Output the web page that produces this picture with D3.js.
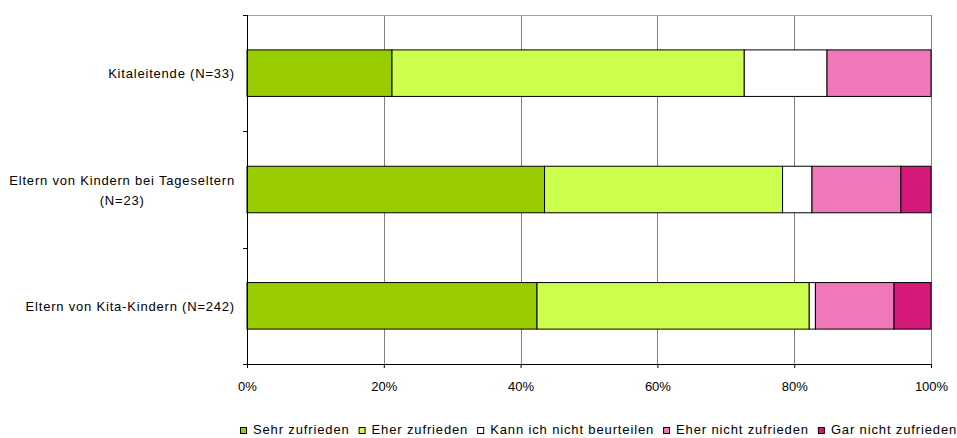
<!DOCTYPE html>
<html>
<head>
<meta charset="utf-8">
<script src="https://cdn.jsdelivr.net/npm/d3@7"></script>
<style>
  body { margin: 0; background: #fff; }
  svg text { font-family: "Liberation Sans", Arial, sans-serif; fill: #000; }
</style>
</head>
<body>
<div id="chart"></div>
<script>
// groups, top to bottom (label lines)
let groups = ["Kitaleitende (N=33)", "Eltern von Kindern bei Tageseltern (N=23)", "Eltern von Kita-Kindern (N=242)"];
let groupLines = [["Kitaleitende (N=33)"], ["Eltern von Kindern bei Tageseltern", "(N=23)"], ["Eltern von Kita-Kindern (N=242)"]];

let answers = ["Sehr zufrieden", "Eher zufrieden", "Kann ich nicht beurteilen", "Eher nicht zufrieden", "Gar nicht zufrieden"];
let colors = ["#99cc00", "#ccff4d", "#ffffff", "#f078ba", "#d5197a"];

// percent per answer, one array per group
let kitaleitende = [21.2, 51.5, 12.1, 15.2, 0];
let tageseltern = [43.5, 34.8, 4.3, 13.0, 4.4];
let kitaEltern = [42.4, 39.8, 0.9, 11.5, 5.4];

let xTicks = [0, 20, 40, 60, 80, 100];

let values = [kitaleitende, tageseltern, kitaEltern];

let margin = {top: 15, left: 247, right: 26, bottom: 74};
let width = 957, height = 438;
let innerW = width - margin.left - margin.right;
let innerH = height - margin.top - margin.bottom;

let svg = d3.select("#chart").append("svg")
    .attr("width", width)
    .attr("height", height);

let g = svg.append("g")
    .attr("transform", `translate(${margin.left}, ${margin.top})`);

let x = d3.scaleLinear().domain([0, 100]).range([0, innerW]);
let y = d3.scaleBand().domain(groups).range([0, innerH])
    .paddingInner(0.6).paddingOuter(0.3);

// gridlines
g.selectAll(".grid").data(xTicks.slice(1))
    .enter().append("line")
    .attr("x1", d => Math.round(x(d)) + 0.5)
    .attr("x2", d => Math.round(x(d)) + 0.5)
    .attr("y1", 0)
    .attr("y2", innerH)
    .attr("stroke", "#808080");

g.append("line")
    .attr("x1", 0).attr("x2", innerW)
    .attr("y1", 0.5).attr("y2", 0.5)
    .attr("stroke", "#a0a0a0");

// stacked bars
let rows = values.map((v, i) => {
    let acc = 0;
    return v.map((p, j) => {
        let seg = {group: groups[i], x0: acc, x1: acc + p, color: colors[j]};
        acc += p;
        return seg;
    }).filter(s => s.x1 > s.x0);
});

rows.forEach(row => {
    g.selectAll(null).data(row)
        .enter().append("rect")
        .attr("x", d => x(d.x0))
        .attr("y", d => y(d.group))
        .attr("width", d => x(d.x1) - x(d.x0))
        .attr("height", y.bandwidth())
        .attr("fill", d => d.color)
        .attr("stroke", "#000")
        .attr("stroke-width", 1);
});

// bottom axis
let xAxis = d3.axisBottom(x)
    .tickValues(xTicks)
    .tickFormat(d => d + "%")
    .tickSize(4)
    .tickPadding(14);

let xg = g.append("g")
    .attr("transform", `translate(0, ${innerH})`)
    .call(xAxis);
xg.select(".domain").attr("d", `M-4,0.5H${innerW}`).attr("stroke", "#000");
xg.selectAll("text").style("font-size", "13px");

// left axis line and ticks between categories
g.append("line")
    .attr("x1", 0.5).attr("x2", 0.5)
    .attr("y1", 0).attr("y2", innerH)
    .attr("stroke", "#000");

let step = y.step();
let boundaries = [1, 2].map(i => y(groups[0]) - y.paddingOuter() * step + i * step);
g.selectAll(".ytick").data([0].concat(boundaries))
    .enter().append("line")
    .attr("x1", -4).attr("x2", 0)
    .attr("y1", d => Math.round(d) + 0.5)
    .attr("y2", d => Math.round(d) + 0.5)
    .attr("stroke", "#000");

// category labels
groupLines.forEach((lines, i) => {
    let cy = y(groups[i]) + y.bandwidth() / 2;
    let t = g.append("text")
        .attr("text-anchor", "end")
        .style("font-size", "13px")
        .style("letter-spacing", "0.8px");
    let lh = 20;
    lines.forEach((l, k) => {
        t.append("tspan")
            .attr("x", -12)
            .attr("y", cy + 5 + (k - (lines.length - 1) / 2) * lh)
            .text(l);
    });
    // center the lines against each other, keep the block right aligned
    if (lines.length > 1) {
        let tspans = t.selectAll("tspan").nodes();
        let widths = tspans.map(n => n.getComputedTextLength());
        let blockW = d3.max(widths);
        tspans.forEach((n, k) => {
            d3.select(n).attr("x", -12 - (blockW - widths[k]) / 2);
        });
    }
});

// legend
let legend = svg.append("g").attr("transform", "translate(240, 427)");
let lx = 0;
answers.forEach((a, i) => {
    let item = legend.append("g").attr("transform", `translate(${lx}, 0)`);
    item.append("rect")
        .attr("x", 0.5).attr("y", 0.5)
        .attr("width", 6).attr("height", 6)
        .attr("fill", colors[i])
        .attr("stroke", "#000");
    let txt = item.append("text")
        .attr("x", 13)
        .attr("y", 7)
        .style("font-size", "13px")
        .style("letter-spacing", "0.86px")
        .text(a);
    lx += 13 + txt.node().getComputedTextLength() + 9;
});
</script>
</body>
</html>
